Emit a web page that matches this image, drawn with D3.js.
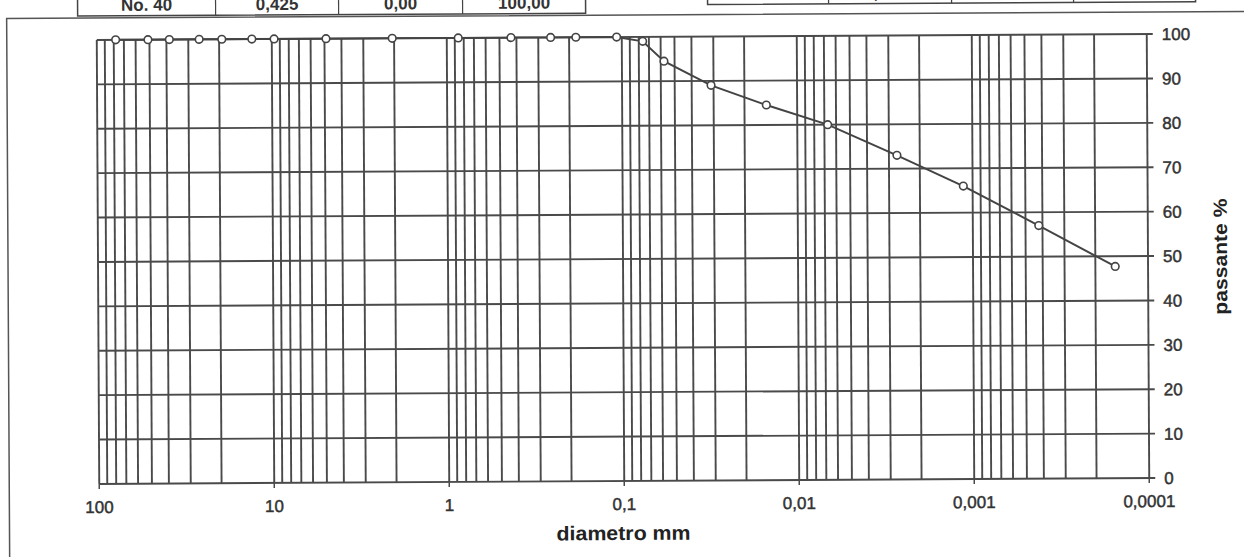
<!DOCTYPE html>
<html>
<head>
<meta charset="utf-8">
<script src="https://cdn.jsdelivr.net/npm/d3@7"></script>
<style>
  html, body { margin: 0; padding: 0; background: #fff; }
  svg { display: block; }
  text { font-family: "Liberation Sans", Arial, sans-serif; }
</style>
</head>
<body>
<svg id="chart" width="1244" height="557"></svg>
<script>
// ---- data ----
const diameters = [78, 51, 38.5, 26, 19.3, 13, 9.7, 4.9, 2.05, 0.86, 0.43, 0.255, 0.183, 0.107, 0.076,
                   0.0575, 0.031, 0.015, 0.0067, 0.0027, 0.00113, 0.00042, 0.000154];
const passing   = [100, 100, 100, 100, 100, 100, 100, 100, 100, 100, 100, 100, 100, 100, 99,
                   94.5, 89, 84.5, 80, 73, 66, 57, 47.7];
const xTickValues = [100, 10, 1, 0.1, 0.01, 0.001, 0.0001];
const xTickLabels = ["100", "10", "1", "0,1", "0,01", "0,001", "0,0001"];
const yTickValues = [0, 10, 20, 30, 40, 50, 60, 70, 80, 90, 100];
const table1Cells = ["No. 40", "0,425", "0,00", "100,00"];
const table2Cells = ["", "0,0750", "", ""];
const xTitle = "diametro mm";
const yTitle = "passante %";

// ---- layout ----
const W = 1244, H = 557;
const mLeft = 98, mRight = 1148, mTop = 37, mBottom = 481;
const gridColor = "#4a4a4a";

const svg = d3.select("#chart");
svg.append("rect").attr("width", W).attr("height", H).attr("fill", "#fff");

const x = d3.scaleLog().domain([100, 0.0001]).range([mLeft, mRight]);
const y = d3.scaleLinear().domain([0, 100]).range([mBottom, mTop]);

const g = svg.append("g")
  .attr("transform", `rotate(-0.32, ${(mLeft + mRight) / 2}, ${(mTop + mBottom) / 2})`);

// outer frame (scanned page border)
g.append("path")
  .attr("d", `M8,${H + 5} L8,15 L${W + 5},15`)
  .attr("fill", "none").attr("stroke", "#555").attr("stroke-width", 1.5);

// partial tables at top (cut by the page edge as in the scan)
function drawTable(x0, x1, divs, yb, cells) {
  const tg = g.append("g");
  tg.append("rect").attr("x", x0).attr("y", -30).attr("width", x1 - x0).attr("height", yb + 30)
    .attr("fill", "none").attr("stroke", "#444").attr("stroke-width", 1.5);
  divs.forEach(d => tg.append("line").attr("x1", d).attr("x2", d).attr("y1", -30).attr("y2", yb)
    .attr("stroke", "#444").attr("stroke-width", 1.2));
  const bounds = [x0, ...divs, x1];
  cells.forEach((c, i) => {
    tg.append("text").attr("x", (bounds[i] + bounds[i + 1]) / 2).attr("y", yb - 5)
      .attr("text-anchor", "middle").attr("font-size", 17).attr("font-weight", "bold")
      .attr("fill", "#333").text(c);
  });
}
drawTable(79, 587, [217, 340, 464], 13, table1Cells);
drawTable(709, 1197, [830, 953, 1075], 5, table2Cells);

// vertical grid lines (log grid)
const vGrid = [];
for (let e = -4; e <= 1; e++) {
  for (let k = 1; k <= 9; k++) vGrid.push(k * Math.pow(10, e));
}
vGrid.push(100);
g.append("g").selectAll("line").data(vGrid).join("line")
  .attr("x1", d => x(d)).attr("x2", d => x(d))
  .attr("y1", y(100)).attr("y2", y(0))
  .attr("stroke", gridColor).attr("stroke-width", 1.9);

// horizontal grid lines
g.append("g").selectAll("line").data(yTickValues).join("line")
  .attr("x1", x(100)).attr("x2", x(0.0001) + 6)
  .attr("y1", d => y(d)).attr("y2", d => y(d))
  .attr("stroke", gridColor).attr("stroke-width", 1.9);

// x ticks below axis
g.append("g").selectAll("line").data(xTickValues).join("line")
  .attr("x1", d => x(d)).attr("x2", d => x(d))
  .attr("y1", y(0)).attr("y2", y(0) + 5)
  .attr("stroke", gridColor).attr("stroke-width", 1.5);

// x tick labels
g.append("g").selectAll("text").data(xTickValues).join("text")
  .attr("x", d => x(d)).attr("y", y(0) + 29)
  .attr("text-anchor", "middle").attr("font-size", 17).attr("fill", "#333")
  .attr("stroke", "#333").attr("stroke-width", 0.45)
  .text((d, i) => xTickLabels[i]);

// y tick labels (right side)
g.append("g").selectAll("text").data(yTickValues).join("text")
  .attr("x", x(0.0001) + 15).attr("y", d => y(d))
  .attr("dy", "0.36em")
  .attr("font-size", 17).attr("fill", "#333")
  .attr("stroke", "#333").attr("stroke-width", 0.45)
  .text(d => d);

// axis titles
g.append("text").attr("x", 622).attr("y", 540)
  .attr("text-anchor", "middle").attr("font-size", 20).attr("font-weight", "bold")
  .attr("fill", "#222").attr("textLength", 134).attr("lengthAdjust", "spacingAndGlyphs")
  .text(xTitle);
g.append("text")
  .attr("transform", `translate(1227, 260) rotate(-90)`)
  .attr("text-anchor", "middle").attr("font-size", 19).attr("font-weight", "bold")
  .attr("fill", "#222").attr("textLength", 116).attr("lengthAdjust", "spacingAndGlyphs")
  .text(yTitle);

// data line
const pts = diameters.map((d, i) => [d, passing[i]]);
g.append("path").datum(pts)
  .attr("d", d3.line().x(d => x(d[0])).y(d => y(d[1])))
  .attr("fill", "none").attr("stroke", "#444").attr("stroke-width", 2);

g.append("g").selectAll("circle").data(pts).join("circle")
  .attr("cx", d => x(d[0])).attr("cy", d => y(d[1])).attr("r", 3.8)
  .attr("fill", "#fff").attr("stroke", "#444").attr("stroke-width", 1.6);
</script>
</body>
</html>
